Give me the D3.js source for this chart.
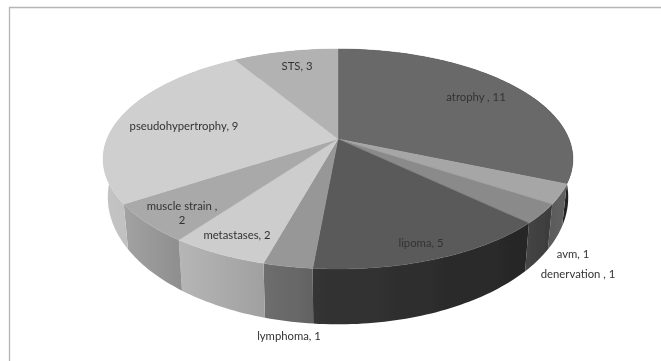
<!DOCTYPE html>
<html>
<head>
<meta charset="utf-8">
<script src="https://cdnjs.cloudflare.com/ajax/libs/d3/7.8.5/d3.min.js"></script>
<style>
    html, body { margin: 0; padding: 0; background: #fff; }
    svg { display: block; }
    text { font-family: Lato, "Open Sans", sans-serif; font-size: 11.3px; fill: #333; }
</style>
</head>
<body>
<div id="chart"></div>
<script>
const categories = ["atrophy", "avm", "denervation", "lipoma", "lymphoma", "metastases", "muscle strain", "pseudohypertrophy", "STS"];
const counts = [11, 1, 1, 5, 1, 2, 2, 9, 3];
const topColors = ["#696969", "#a6a6a6", "#8a8a8a", "#5a5a5a", "#979797", "#cdcdcd", "#a9a9a9", "#cfcfcf", "#b2b2b2"];
// side walls are shaded left to right
const sideLeftColors = ["#2a2a2a", "#5a5a5a", "#454545", "#343434", "#6e6e6e", "#b6b6b6", "#a2a2a2", "#c4c4c4", "#8a8a8a"];
const sideRightColors = ["#222222", "#626262", "#3c3c3c", "#272727", "#636363", "#a0a0a0", "#8e8e8e", "#b2b2b2", "#8a8a8a"];

const width = 661;
const height = 361;
const cx = 338;
const cy = 139;
const radius = 231;
const tilt = 106.4;
const persp = 0.1818;

// the pie is seen in perspective, so the near half comes out bigger than the far half
function projectTop(a) {
    const u = Math.sin(a), v = -Math.cos(a), k = 1 - persp * v;
    return [radius * u / k, tilt * v / k];
}
function projectBottom(a) {
    const p = projectTop(a);
    return [p[0] * 0.98, p[1] * 1.156 + 35];
}
function arcPoints(d, project) {
    const n = Math.max(2, Math.ceil((d.endAngle - d.startAngle) / 0.02));
    return d3.range(n + 1).map(i => project(d.startAngle + (d.endAngle - d.startAngle) * i / n));
}

const topColor = d3.scaleOrdinal().domain(categories).range(topColors);
const sideLeft = d3.scaleOrdinal().domain(categories).range(sideLeftColors);
const sideRight = d3.scaleOrdinal().domain(categories).range(sideRightColors);

const pie = d3.pie().value(d => d.count).sort(null);
const slices = pie(categories.map((name, i) => ({ name: name, count: counts[i] })));
const line = d3.line();

const svg = d3.select("#chart").append("svg")
    .attr("width", width)
    .attr("height", height);

const defs = svg.append("defs");
defs.append("filter").attr("id", "soft")
    .append("feGaussianBlur").attr("stdDeviation", 0.5);

const grads = defs.selectAll("linearGradient")
    .data(slices)
    .enter().append("linearGradient")
    .attr("id", (d, i) => `side${i}`);
grads.append("stop").attr("offset", "0%").attr("stop-color", d => sideLeft(d.data.name));
grads.append("stop").attr("offset", "100%").attr("stop-color", d => sideRight(d.data.name));

const root = svg.append("g").attr("filter", "url(#soft)");

root.append("path")
    .attr("d", `M9.5,${height + 5}V7.5H${width + 5}`)
    .attr("fill", "none")
    .attr("stroke", "#b5b5b5")
    .attr("stroke-width", 1.3);

const chartGroup = root.append("g")
    .attr("transform", `translate(${cx},${cy})`);

chartGroup.selectAll(".side")
    .data(slices)
    .enter().append("path")
    .attr("class", "side")
    .attr("fill", (d, i) => `url(#side${i})`)
    .attr("d", d => line(arcPoints(d, projectTop).concat(arcPoints(d, projectBottom).reverse())) + "Z");

chartGroup.selectAll(".slice")
    .data(slices)
    .enter().append("path")
    .attr("class", "slice")
    .attr("fill", d => topColor(d.data.name))
    .attr("stroke", d => topColor(d.data.name))
    .attr("stroke-width", 0.4)
    .attr("d", d => line([[0, 0]].concat(arcPoints(d, projectTop))) + "Z");

const labels = [
    { lines: ["atrophy , 11"], x: 476, y: 101 },
    { lines: ["avm, 1"], x: 573, y: 258 },
    { lines: ["denervation , 1"], x: 578, y: 278 },
    { lines: ["lipoma, 5"], x: 421, y: 247 },
    { lines: ["lymphoma, 1"], x: 289, y: 340 },
    { lines: ["metastases, 2"], x: 237, y: 239 },
    { lines: ["muscle strain ,", "2"], x: 182, y: 210 },
    { lines: ["pseudohypertrophy, 9"], x: 184, y: 130 },
    { lines: ["STS, 3"], x: 297, y: 70 }
];

const labelText = root.selectAll(".label")
    .data(labels)
    .enter().append("text")
    .attr("class", "label")
    .attr("text-anchor", "middle");

labelText.selectAll("tspan")
    .data(d => d.lines.map((t, i) => ({ t: t, i: i, x: d.x, y: d.y })))
    .enter().append("tspan")
    .attr("x", d => d.x)
    .attr("y", d => d.y + d.i * 14)
    .text(d => d.t);
</script>
</body>
</html>
